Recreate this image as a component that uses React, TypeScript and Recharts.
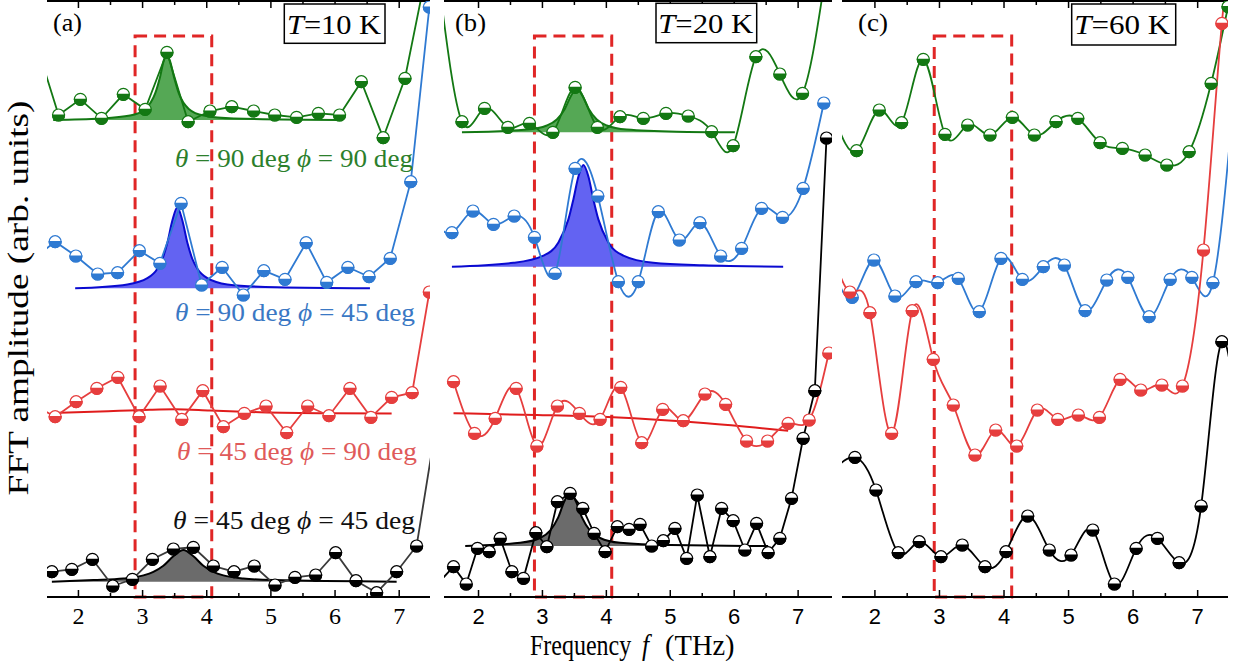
import React from 'react';
import { ComposedChart, Line, Area, XAxis, YAxis, ReferenceArea } from 'recharts';

// ---------- Panel (a) T = 10 K ----------
const A_GREEN_F = [1.35, 1.69, 2.03, 2.36, 2.70, 3.04, 3.38, 3.71, 4.05, 4.39, 4.73, 5.06, 5.40, 5.74, 6.07, 6.41, 6.75, 7.09, 7.43];
const A_GREEN_Y = [552, 482, 497.7, 478.7, 502.7, 487.7, 544.7, 475.3, 486, 490.3, 486, 482, 479.7, 483.7, 482, 515.3, 459.3, 518.7, 627];
const A_BLUE_F = [1.31, 1.637, 1.96, 2.30, 2.61, 2.95, 3.27, 3.60, 3.92, 4.24, 4.57, 4.89, 5.22, 5.55, 5.87, 6.20, 6.53, 6.86, 7.18, 7.47];
const A_BLUE_Y = [339, 355.3, 341, 323, 324.3, 346.3, 333.7, 393.7, 312, 329.7, 302, 326.3, 317.7, 354.3, 314.7, 329.7, 320.3, 338.7, 415.3, 590];
const A_RED_F = [1.31, 1.637, 1.964, 2.287, 2.614, 2.945, 3.273, 3.611, 3.938, 4.259, 4.586, 4.924, 5.246, 5.573, 5.905, 6.232, 6.559, 6.882, 7.202, 7.47];
const A_RED_Y = [192, 180.3, 195.3, 208.7, 219.7, 180.3, 211, 177.7, 206.3, 170.3, 183.7, 191, 164.3, 191, 181.3, 208.7, 179.7, 199.7, 204.3, 305];
const A_BLACK_F = [1.586, 1.897, 2.218, 2.536, 2.841, 3.153, 3.480, 3.791, 4.103, 4.425, 4.741, 5.064, 5.375, 5.698, 6.009, 6.326, 6.648, 6.960, 7.271, 7.583];
const A_BLACK_Y = [25.3, 27.7, 37.7, 11, 17.7, 37.7, 48, 49.7, 31, 25.3, 31, 12, 19.7, 22, 44.3, 16.3, 4.3, 25.3, 51, 175];

const A_GFIT_F = [1.606, 2.338, 2.805, 3.04, 3.196, 3.274, 3.331, 3.377, 3.424, 3.487, 3.565, 3.72, 3.953, 4.42, 6.076];
const A_GFIT_Y = [477, 478.4, 481.4, 488.1, 503.6, 520.6, 536.6, 542, 536.6, 520.6, 503.6, 488.1, 481.4, 478.4, 477];
const A_BFIT_F = [1.949, 2.763, 3.075, 3.231, 3.309, 3.386, 3.464, 3.542, 3.62, 3.698, 3.776, 3.854, 4.01, 4.321, 5.10, 6.544];
const A_BFIT_Y = [308.7, 312.6, 318.8, 328.3, 338, 354.2, 376.4, 389.7, 376.4, 354.2, 338, 328.3, 318.8, 312.6, 309.7, 308.7];
const A_RFIT_F = [1.586, 2.338, 3.117, 3.506, 4.051, 4.83, 5.92, 6.882];
const A_RFIT_Y = [184, 185.5, 187.3, 187.7, 186.5, 184.7, 183.7, 183.5];
const A_KFIT_F = [1.586, 2.234, 2.701, 3.013, 3.168, 3.324, 3.48, 3.636, 3.792, 3.947, 4.103, 4.259, 4.57, 5.037, 6.96];
const A_KFIT_Y = [15.3, 16.9, 18.5, 21.6, 25.1, 31.2, 40.7, 47, 40.7, 31.2, 25.1, 21.6, 18.5, 16.9, 15.3];

// ---------- Panel (b) T = 20 K ----------
const B_GREEN_F = [1.386, 1.741, 2.094, 2.459, 2.797, 3.163, 3.511, 3.859, 4.214, 4.578, 4.933, 5.281, 5.647, 5.984, 6.339, 6.714, 7.069, 7.417];
const B_GREEN_Y = [612, 475.3, 488.7, 469.7, 473.7, 464.7, 509.7, 469.7, 480.3, 478.7, 483.7, 481, 465.3, 451.3, 540.3, 523, 503.7, 617];
const B_BLUE_F = [1.26, 1.584, 1.913, 2.234, 2.558, 2.875, 3.198, 3.511, 3.866, 4.188, 4.500, 4.813, 5.141, 5.464, 5.788, 6.116, 6.428, 6.756, 7.078, 7.402];
const B_BLUE_Y = [380, 364.3, 386, 372.7, 381, 359.7, 323.7, 428.7, 401, 315.3, 315.3, 385.3, 357, 374.3, 341, 348.7, 388.7, 379.7, 408.7, 494];
const B_RED_F = [1.609, 1.938, 2.261, 2.589, 2.913, 3.234, 3.578, 3.902, 4.225, 4.553, 4.881, 5.203, 5.542, 5.866, 6.194, 6.522, 6.844, 7.172, 7.48];
const B_RED_Y = [215.3, 163.7, 178.7, 208.7, 151, 191, 183.7, 177.7, 209.7, 154.3, 187.7, 176.3, 203, 192.7, 156, 156, 173.7, 177, 244];
const B_BLACK_F = [1.43, 1.609, 1.808, 1.984, 2.167, 2.339, 2.522, 2.703, 2.897, 3.069, 3.234, 3.433, 3.631, 3.808, 3.980, 4.172, 4.355, 4.527, 4.709, 4.891, 5.073, 5.256, 5.422, 5.620, 5.803, 5.984, 6.167, 6.350, 6.531, 6.714, 6.897, 7.078, 7.261, 7.444];
const B_BLACK_Y = [18, 30.3, 13, 48.7, 45.3, 58.7, 25.3, 18.7, 64.3, 50.3, 95.3, 103.7, 88.7, 63.7, 45.3, 70.3, 67.7, 72.7, 51, 56.3, 68.7, 38.7, 102, 40.3, 88.7, 76.3, 47, 73.7, 44.3, 58.7, 98.7, 158.7, 206.3, 459];

const B_GFIT_F = [1.741, 2.756, 3.069, 3.225, 3.35, 3.444, 3.537, 3.631, 3.725, 3.85, 4.006, 4.319, 5.1, 6.011];
const B_GFIT_Y = [464.7, 467.4, 471.5, 477.5, 488.1, 500.7, 508.7, 500.7, 488.1, 477.5, 471.5, 467.4, 465.3, 464.7];
const B_BFIT_F = [1.584, 2.547, 3.016, 3.25, 3.406, 3.484, 3.563, 3.641, 3.719, 3.797, 3.875, 4.031, 4.266, 4.734, 5.516, 6.766];
const B_BFIT_Y = [330.3, 334.2, 341.4, 354.6, 377.6, 397.6, 420.5, 432, 420.5, 397.6, 377.6, 354.6, 341.4, 334.2, 331.7, 330.3];
const B_RFIT_F = [1.609, 2.913, 4.109, 5.569, 6.844];
const B_RFIT_Y = [183.7, 182, 179.7, 173.7, 166.3];
const B_KFIT_F = [1.792, 2.652, 2.964, 3.12, 3.245, 3.339, 3.433, 3.527, 3.62, 3.745, 3.902, 4.214, 4.995, 6.531];
const B_KFIT_Y = [51, 54.2, 59, 66.3, 79.3, 95.1, 105.3, 95.1, 79.3, 66.3, 59, 54.2, 51.9, 51];

// ---------- Panel (c) T = 60 K ----------
const C_GREEN_F = [1.371, 1.716, 2.067, 2.414, 2.749, 3.085, 3.437, 3.783, 4.129, 4.470, 4.806, 5.143, 5.488, 5.834, 6.186, 6.522, 6.868, 7.209, 7.47];
const C_GREEN_Y = [480, 446.3, 487, 474.3, 537.7, 462.7, 472, 462, 479.7, 462, 475.3, 478.7, 454.3, 448.7, 442, 432, 445.3, 513.7, 590.3];
const C_BLUE_F = [1.322, 1.648, 1.984, 2.310, 2.636, 2.972, 3.291, 3.617, 3.953, 4.284, 4.609, 4.935, 5.256, 5.592, 5.918, 6.248, 6.574, 6.910, 7.236, 7.561];
const C_BLUE_Y = [335, 299.7, 337, 301, 315.3, 314.3, 318.7, 285.3, 338.7, 317.7, 330.3, 332, 286.3, 317, 319.7, 280.3, 317.7, 319.7, 314.3, 501];
const C_RED_F = [1.287, 1.612, 1.922, 2.259, 2.578, 2.904, 3.214, 3.550, 3.871, 4.197, 4.516, 4.833, 5.152, 5.478, 5.798, 6.119, 6.445, 6.764, 7.090, 7.375, 7.6];
const C_RED_Y = [357, 305, 284.3, 163.7, 286.3, 237.7, 192, 142, 167, 151, 187, 177.7, 182, 179.7, 217.7, 207, 212, 211, 347, 573.7, 680];
const C_BLACK_F = [1.364, 1.690, 2.016, 2.361, 2.687, 3.023, 3.353, 3.705, 4.031, 4.367, 4.702, 5.039, 5.375, 5.710, 6.047, 6.377, 6.713, 7.054, 7.375, 7.705];
const C_BLACK_Y = [127, 139.7, 107, 44.3, 55.3, 40.3, 52, 30.3, 45.3, 81, 47, 42, 67, 13, 48.7, 58.7, 34.3, 91, 255.3, 110];

// ---------- Axis ----------
const TICKS = [2, 2.5, 3, 3.5, 4, 4.5, 5, 5.5, 6, 6.5, 7];
const Y_DOMAIN: [number, number] = [0, 596];
const X_TITLE = 'Frequency';
const X_UNIT = '(THz)';
const Y_TITLE = 'FFT amplitude (arb. units)';

const GREEN = '#137813';
const BLUE = '#2f7ad2';
const RED = '#e63e3e';
const BLACK = '#000000';
const SERIF = '"Liberation Serif", "DejaVu Serif", serif';
const SANS = '"Liberation Sans", Arial, sans-serif';

type Pt = { x: number; y: number };
const zip = (xs: number[], ys: number[]): Pt[] => xs.map((x, i) => ({ x, y: ys[i] }));

const makeDot = (color: string, xmin: number, xmax: number, r = 6) => (props: any) => {
  const { cx, cy, payload, index } = props;
  if (cx == null || cy == null || !payload || payload.x < xmin || payload.x > xmax || payload.y > 596 || payload.y < 0) {
    return <g key={`e${index}`} />;
  }
  return (
    <g key={`d${index}`}>
      <circle cx={cx} cy={cy} r={r} fill="#fff" stroke={color} strokeWidth={1.2} />
      <path d={`M${cx - r},${cy} A${r},${r} 0 0 0 ${cx + r},${cy} Z`} fill={color} stroke={color} strokeWidth={1.2} />
    </g>
  );
};

type Series = { f: number[]; y: number[]; color: string; dotColor?: string; curve: any };
type Fit = { f: number[]; y: number[]; stroke: string; fill?: string; base?: number };

type PanelProps = {
  left: number;
  width: number;
  ml: number;
  mr: number;
  domain: [number, number];
  series: Series[];
  fits: Fit[];
  box: [number, number];
  tickFont: string;
  tickSize: number;
};

function Panel({ left, width, ml, mr, domain, series, fits, box, tickFont, tickSize }: PanelProps) {
  const bottomTick = (props: any) => {
    const { x, y, payload } = props;
    const v = payload.value;
    const major = Number.isInteger(v);
    return (
      <g>
        <line x1={x} x2={x} y1={y} y2={y - (major ? 7 : 4)} stroke="#000" strokeWidth={1.5} />
        {major && (
          <text x={x} y={y + 27} textAnchor="middle" fontSize={tickSize} fontFamily={tickFont} fill="#000">
            {v}
          </text>
        )}
      </g>
    );
  };
  const topTick = (props: any) => {
    const { x, y, payload } = props;
    const major = Number.isInteger(payload.value);
    return <line x1={x} x2={x} y1={y} y2={y + (major ? 7 : 4)} stroke="#000" strokeWidth={1.5} />;
  };
  return (
    <div style={{ position: 'absolute', left, top: 0, width, height: 667 }}>
      <ComposedChart width={width} height={667} margin={{ top: 0, right: mr, bottom: 40, left: ml }}>
        <XAxis
          dataKey="x"
          type="number"
          domain={domain}
          allowDataOverflow
          ticks={TICKS}
          interval={0}
          height={30}
          tickSize={0}
          tickMargin={0}
          tickLine={false}
          axisLine={{ stroke: '#000', strokeWidth: 2 }}
          tick={bottomTick}
        />
        <XAxis
          xAxisId="top"
          orientation="top"
          dataKey="x"
          type="number"
          domain={domain}
          allowDataOverflow
          ticks={TICKS}
          interval={0}
          height={1}
          tickSize={0}
          tickMargin={0}
          tickLine={false}
          axisLine={{ stroke: '#000', strokeWidth: 2 }}
          tick={topTick}
        />
        <YAxis type="number" domain={Y_DOMAIN} allowDataOverflow width={0} tick={false} tickLine={false} axisLine={{ stroke: '#000', strokeWidth: 2 }} />
        <YAxis yAxisId="r" orientation="right" type="number" domain={Y_DOMAIN} allowDataOverflow width={0} tick={false} tickLine={false} axisLine={{ stroke: '#000', strokeWidth: 2 }} />
        <ReferenceArea x1={box[0]} x2={box[1]} y1={0} y2={561} fill="none" fillOpacity={0} stroke="#e02626" strokeWidth={3} strokeDasharray="12 7" ifOverflow="visible" />
        {fits.map((ft, i) =>
          ft.fill ? (
            <Area
              key={`fit${i}`}
              data={zip(ft.f, ft.y)}
              dataKey="y"
              type="monotone"
              baseValue={ft.base}
              stroke={ft.stroke}
              strokeWidth={2}
              fill={ft.fill}
              fillOpacity={1}
              dot={false}
              activeDot={false}
              isAnimationActive={false}
            />
          ) : (
            <Line
              key={`fit${i}`}
              data={zip(ft.f, ft.y)}
              dataKey="y"
              type="monotone"
              stroke={ft.stroke}
              strokeWidth={2}
              dot={false}
              activeDot={false}
              isAnimationActive={false}
            />
          )
        )}
        {series.map((s, i) => (
          <Line
            key={`s${i}`}
            data={zip(s.f, s.y)}
            dataKey="y"
            type={s.curve}
            stroke={s.color}
            strokeWidth={1.8}
            dot={makeDot(s.dotColor || s.color, domain[0], domain[1])}
            activeDot={false}
            isAnimationActive={false}
          />
        ))}
      </ComposedChart>
    </div>
  );
}

const Theta = ({ x, y, th, ph, color, len }: { x: number; y: number; th: string; ph: string; color: string; len: number }) => (
  <text x={x} y={y} fontSize={25} fontFamily={SERIF} fill={color} textLength={len} lengthAdjust="spacingAndGlyphs">
    <tspan fontStyle="italic">θ</tspan>
    {` = ${th} deg `}
    <tspan fontStyle="italic">ϕ</tspan>
    {` = ${ph} deg`}
  </text>
);

const TBox = ({ x, y, w, h, tx, len, label }: { x: number; y: number; w: number; h: number; tx: number; len: number; label: string }) => (
  <g>
    <rect x={x} y={y} width={w} height={h} fill="#fff" stroke="#000" strokeWidth={1.5} />
    <text x={tx} y={y + 30} fontSize={28} fontFamily={SERIF} fill="#000" textLength={len} lengthAdjust="spacingAndGlyphs">
      <tspan fontStyle="italic">T</tspan>
      {label}
    </text>
  </g>
);

export default function App() {
  return (
    <div style={{ position: 'absolute', left: 0, top: 0, width: 1234, height: 667, background: '#fff', overflow: 'hidden' }}>
      <Panel
        left={0}
        width={440}
        ml={47}
        mr={10}
        domain={[1.51, 7.48]}
        box={[2.883, 4.078]}
        tickFont={SERIF}
        tickSize={24}
        fits={[
          { f: A_GFIT_F, y: A_GFIT_Y, stroke: GREEN, fill: '#55a855', base: 477 },
          { f: A_BFIT_F, y: A_BFIT_Y, stroke: '#0a0ad0', fill: '#6363f2', base: 308.7 },
          { f: A_RFIT_F, y: A_RFIT_Y, stroke: '#e01c1c' },
          { f: A_KFIT_F, y: A_KFIT_Y, stroke: '#000', fill: '#6b6b6b', base: 15.3 },
        ]}
        series={[
          { f: A_GREEN_F, y: A_GREEN_Y, color: GREEN, curve: 'linear' },
          { f: A_BLUE_F, y: A_BLUE_Y, color: BLUE, curve: 'linear' },
          { f: A_RED_F, y: A_RED_Y, color: RED, curve: 'linear' },
          { f: A_BLACK_F, y: A_BLACK_Y, color: '#3a3a3a', dotColor: '#000', curve: 'linear' },
        ]}
      />
      <Panel
        left={437}
        width={400}
        ml={7}
        mr={5}
        domain={[1.46, 7.53]}
        box={[2.875, 4.084]}
        tickFont={SANS}
        tickSize={22}
        fits={[
          { f: B_GFIT_F, y: B_GFIT_Y, stroke: GREEN, fill: '#55a855', base: 464.7 },
          { f: B_BFIT_F, y: B_BFIT_Y, stroke: '#0a0ad0', fill: '#6363f2', base: 330.3 },
          { f: B_RFIT_F, y: B_RFIT_Y, stroke: '#e01c1c' },
          { f: B_KFIT_F, y: B_KFIT_Y, stroke: '#000', fill: '#6b6b6b', base: 51 },
        ]}
        series={[
          { f: B_GREEN_F, y: B_GREEN_Y, color: GREEN, curve: 'natural' },
          { f: B_BLUE_F, y: B_BLUE_Y, color: BLUE, curve: 'natural' },
          { f: B_RED_F, y: B_RED_Y, color: RED, curve: 'natural' },
          { f: B_BLACK_F, y: B_BLACK_Y, color: BLACK, curve: 'linear' },
        ]}
      />
      <Panel
        left={837}
        width={397}
        ml={5}
        mr={6}
        domain={[1.49, 7.47]}
        box={[2.919, 4.119]}
        tickFont={SANS}
        tickSize={22}
        fits={[]}
        series={[
          { f: C_GREEN_F, y: C_GREEN_Y, color: GREEN, curve: 'natural' },
          { f: C_BLUE_F, y: C_BLUE_Y, color: BLUE, curve: 'natural' },
          { f: C_RED_F, y: C_RED_Y, color: RED, curve: 'natural' },
          { f: C_BLACK_F, y: C_BLACK_Y, color: BLACK, curve: 'natural' },
        ]}
      />
      <svg width={1234} height={667} style={{ position: 'absolute', left: 0, top: 0, pointerEvents: 'none' }}>
        <text x={53} y={31} fontSize={26} fontFamily={SERIF} textLength={29} lengthAdjust="spacingAndGlyphs">(a)</text>
        <text x={455} y={31} fontSize={26} fontFamily={SERIF} textLength={31} lengthAdjust="spacingAndGlyphs">(b)</text>
        <text x={858} y={31} fontSize={26} fontFamily={SERIF} textLength={30} lengthAdjust="spacingAndGlyphs">(c)</text>
        <TBox x={284.3} y={4} w={100.7} h={39.3} tx={287} len={94} label="=10 K" />
        <TBox x={656} y={3.3} w={100.7} h={39.4} tx={658.3} len={95} label="=20 K" />
        <TBox x={1071.7} y={4} w={104} h={41} tx={1074.3} len={96} label="=60 K" />
        <Theta x={175} y={167} th="90" ph="90" color="#2c7f2c" len={238} />
        <Theta x={175} y={321} th="90" ph="45" color="#3a78c4" len={240} />
        <Theta x={177} y={460} th="45" ph="90" color="#e05a5a" len={240} />
        <Theta x={173} y={529} th="45" ph="45" color="#111" len={242} />
        <text transform="translate(530,655) scale(0.8,1)" fontSize={30} fontFamily={SERIF}>
          {X_TITLE}
        </text>
        <text transform="translate(642,655) scale(0.85,1)" fontSize={30} fontFamily={SERIF} fontStyle="italic">
          f
        </text>
        <text transform="translate(665,655) scale(0.95,1)" fontSize={30} fontFamily={SERIF}>
          {X_UNIT}
        </text>
        <text
          transform="translate(28,298) rotate(-90)"
          textAnchor="middle"
          fontSize={30}
          fontFamily={SERIF}
          textLength={395}
          lengthAdjust="spacingAndGlyphs"
        >
          {Y_TITLE}
        </text>
      </svg>
    </div>
  );
}
